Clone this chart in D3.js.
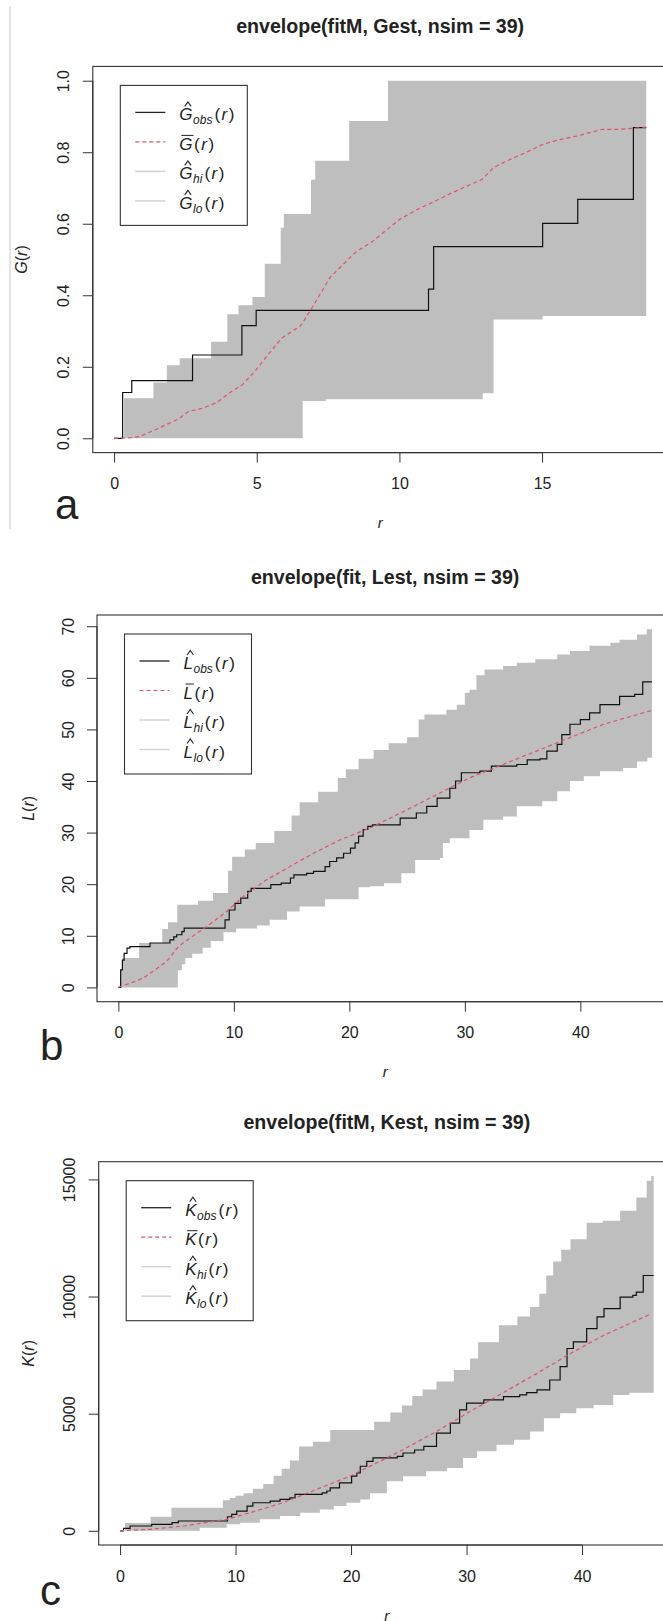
<!DOCTYPE html>
<html><head><meta charset="utf-8">
<script src="https://cdn.jsdelivr.net/npm/d3@7"></script>
<style>
body{margin:0;background:#fff}
svg{display:block}
text{font-family:"Liberation Sans",Arial,Helvetica,sans-serif;fill:#222}
</style></head>
<body><svg id="chart" width="663" height="1621"></svg>
<script>
// ================= DATA =================
// Panel a : envelope(fitM, Gest, nsim = 39)
const gTitle = "envelope(fitM, Gest, nsim = 39)";
const gEnd = 18.65;
const gHi  = [[0,0],[0.35,0.112],[1.38,0.156],[1.85,0.204],[2.3,0.224],[3.4,0.27],[3.97,0.347],[4.36,0.372],[4.85,0.395],[5.28,0.488],[5.84,0.589],[5.95,0.627],[6.9,0.723],[7.05,0.776],[8.24,0.887],[9.6,1.0]];
const gLo  = [[0,0],[6.61,0.104],[7.42,0.109],[12.92,0.126],[13.3,0.332],[15.02,0.342]];
const gObs = [[0,0],[0.3,0.128],[0.62,0.161],[2.75,0.233],[4.48,0.315],[4.98,0.358],[11.02,0.417],[11.2,0.536],[15.02,0.601],[16.25,0.668],[18.2,0.869]];
const gMean = [[0,0],[0.5,0.001],[0.9,0.005],[1.5,0.026],[2.28,0.055],[2.6,0.075],[3.14,0.085],[3.6,0.1],[4.1,0.13],[4.5,0.15],[4.91,0.185],[5.36,0.23],[5.87,0.28],[6.54,0.315],[6.9,0.36],[7.57,0.45],[8.46,0.52],[9.05,0.55],[10,0.612],[10.7,0.643],[11.17,0.66],[11.75,0.683],[12.3,0.703],[12.9,0.724],[13.3,0.757],[13.8,0.777],[14.4,0.798],[15.0,0.821],[15.6,0.835],[16.2,0.845],[17.1,0.864],[17.7,0.864],[18.65,0.87]];
const gTicksX = [0,5,10,15];
const gTicksY = [0,0.2,0.4,0.6,0.8,1.0];
const gTickLabelsY = ["0.0","0.2","0.4","0.6","0.8","1.0"];

// Panel b : envelope(fit, Lest, nsim = 39)
const lTitle = "envelope(fit, Lest, nsim = 39)";
const lEnd = 46.2;
const lHi  = [[0,0],[0.2,3.4],[0.35,5.7],[1.8,8.6],[3.8,11.3],[4.3,12.6],[5.1,16.0],[6.9,16.8],[8.2,18.3],[9.5,22.6],[9.85,25.3],[10.95,26.7],[11.9,28.0],[13.5,30.3],[15.0,33.3],[15.7,35.9],[17.3,37.9],[19.0,40.6],[19.7,42.3],[20.8,44.3],[22.1,46.0],[23.4,47.3],[25.0,48.5],[26.0,51.9],[26.5,52.9],[28.4,53.8],[29.3,54.8],[30.0,57.1],[30.4,57.7],[31.0,60.5],[31.7,61.6],[33.3,62.3],[34.5,62.9],[36.1,63.6],[38.0,64.5],[39.1,65.2],[40.8,66.2],[42.6,66.8],[43.4,67.4],[44.9,68.4],[45.75,69.4]];
const lLo  = [[0,0],[5.15,3.3],[5.5,4.5],[5.8,5.7],[6.4,6.5],[7.3,7.7],[8.0,9.0],[9.1,10.7],[10.2,11.4],[12.0,12.0],[13.1,13.1],[14.6,14.7],[15.7,15.7],[17.9,17.1],[20.8,19.4],[21.8,19.6],[23.0,20.2],[24.5,22.1],[25.7,24.7],[27.85,25.1],[28.1,28.0],[28.7,28.9],[30.4,30.5],[31.6,32.5],[33.3,33.1],[34.5,35.1],[36.7,36.1],[38.0,38.0],[39.1,40.0],[40.3,40.9],[41.7,41.9],[43.7,42.5],[44.9,43.8],[45.8,44.5]];
const lObs = [[0,0],[0.2,3.4],[0.35,5.3],[0.5,6.6],[0.75,7.6],[1.0,7.9],[2.74,8.6],[4.47,9.2],[4.8,9.8],[5.05,10.2],[5.5,10.8],[5.7,11.5],[9.24,13.1],[9.6,15.0],[10.1,16.3],[10.6,17.3],[11.2,18.6],[11.5,19.2],[13.2,19.9],[14.1,20.2],[14.9,21.2],[15.2,21.8],[16.3,22.1],[16.9,22.5],[17.9,23.4],[18.3,24.4],[18.9,25.1],[19.5,26.0],[20.1,27.0],[20.5,28.0],[20.8,29.3],[21.2,30.6],[21.6,31.2],[22.0,31.5],[24.4,32.8],[25.8,33.8],[26.7,35.1],[27.6,36.7],[28.7,38.6],[29.2,40.0],[29.7,41.6],[31.3,41.9],[32.3,42.9],[34.5,43.2],[35.4,44.1],[36.5,44.3],[37.1,45.8],[38.0,47.1],[38.4,49.0],[39.1,51.0],[40.0,51.9],[40.8,53.2],[41.7,54.8],[43.4,56.4],[44.7,56.8],[45.4,59.2]];
const lMean = [[0,0],[1.0,0.8],[2.16,1.8],[3.17,3.4],[4.18,5.0],[5.19,7.9],[6.35,9.8],[7.65,11.8],[9.38,14.7],[10.8,17.6],[12.8,20.8],[14.6,23.1],[16.9,26.0],[19.2,28.6],[21.8,30.9],[24.7,34.1],[27.6,37.4],[30.4,40.6],[33.3,43.2],[36.2,45.8],[39.1,48.4],[42.0,51.0],[46.2,53.7]];
const lTicksX = [0,10,20,30,40];
const lTicksY = [0,10,20,30,40,50,60,70];
const lTickLabelsY = ["0","10","20","30","40","50","60","70"];

// Panel c : envelope(fitM, Kest, nsim = 39)
const kTitle = "envelope(fitM, Kest, nsim = 39)";
const kEnd = 46.2;
const kHi  = [[0,0],[0.43,330],[2.65,600],[4.45,980],[8.9,1300],[9.5,1400],[10.0,1500],[10.7,1600],[11.5,1800],[12.4,2000],[13.3,2350],[14.0,2650],[14.7,3000],[15.5,3600],[16.7,3800],[18.2,4300],[22.0,4650],[23.4,5050],[24.4,5350],[25.3,5750],[26.2,6030],[27.4,6370],[28.9,6860],[30.3,7360],[31.0,8050],[32.8,8770],[34.4,9150],[35.5,9550],[36.3,10120],[36.9,10900],[37.5,11500],[38.2,12000],[39.0,12450],[40.4,13150],[41.8,13240],[43.3,13660],[44.7,14230],[45.6,14940],[46.0,15150]];
const kLo  = [[0,0],[6.9,134],[9.24,276],[10.4,347],[12.1,489],[13.85,630],[15.6,772],[17.3,914],[18.5,1055],[19.6,1197],[20.8,1338],[21.65,1600],[23.1,2118],[24.5,2330],[26.5,2543],[28.3,2684],[29.7,3109],[30.9,3392],[32.6,3675],[34.1,3888],[35.5,4242],[36.7,4809],[38.1,5021],[39.5,5234],[41.0,5375],[42.7,5800],[44.1,5890]];
const kObs = [[0,0],[0.3,100],[0.87,205],[2.74,276],[4.5,347],[5.05,418],[9.3,600],[9.67,701],[10.1,843],[11.0,1055],[11.5,1197],[13.0,1268],[13.85,1338],[14.7,1409],[15.15,1551],[17.5,1621],[17.9,1700],[18.2,1834],[19.0,2046],[20.05,2330],[20.5,2472],[20.8,2755],[21.36,2967],[21.9,3109],[24.0,3180],[24.5,3321],[25.5,3450],[26.3,3605],[27.4,4171],[28.6,4596],[29.4,5163],[30.0,5446],[31.5,5588],[33.2,5730],[34.6,5800],[35.2,5900],[36.1,6013],[37.2,6438],[38.1,7005],[38.7,7783],[39.25,8066],[40.4,8632],[41.3,9129],[41.9,9483],[43.3,9979],[44.4,10049],[44.7,10191],[45.3,10899]];
const kMean = [[0,0],[2.6,64],[5.5,205],[9.24,489],[11.25,772],[14.1,1197],[17.0,1763],[19.9,2330],[22.5,2967],[24.5,3463],[27.4,4242],[30.3,5092],[33.1,5871],[36.1,6721],[39.0,7571],[41.9,8350],[46.0,9270]];
const kTicksX = [0,10,20,30,40];
const kTicksY = [0,5000,10000,15000];
const kTickLabelsY = ["0","5000","10000","15000"];

const panelLetters = ["a","b","c"];
const funcLetters = ["G","L","K"];
const legendSubs = ["obs", null, "hi", "lo"];

// ================= DRAW =================
const svg = d3.select("#chart");
svg.append("rect").attr("width",663).attr("height",1621).attr("fill","#fff");
// faint vertical rule at far left of panel a
svg.append("line").attr("x1",10).attr("x2",10).attr("y1",6).attr("y2",529)
  .attr("stroke","#e4e4e4").attr("stroke-width",2);

const panels = [
  {title:gTitle,end:gEnd,hi:gHi,lo:gLo,obs:gObs,mean:gMean,tx:gTicksX,ty:gTicksY,tyl:gTickLabelsY,
   left:92.8,right:667.5,top:66.4,bottom:452.6,titleY:26,letterX:55,letterY:519,fn:0,ylabX:21},
  {title:lTitle,end:lEnd,hi:lHi,lo:lLo,obs:lObs,mean:lMean,tx:lTicksX,ty:lTicksY,tyl:lTickLabelsY,
   left:97,right:673.3,top:615,bottom:1001.7,titleY:576.5,letterX:40,letterY:1060,fn:1,ylabX:28},
  {title:kTitle,end:kEnd,hi:kHi,lo:kLo,obs:kObs,mean:kMean,tx:kTicksX,ty:kTicksY,tyl:kTickLabelsY,
   left:98.7,right:675,top:1161.7,bottom:1545,titleY:1121.5,letterX:40,letterY:1605,fn:2,ylabX:28}
];

function stepAt(pts, r){ let v = pts[0][1]; for(const p of pts){ if(p[0] <= r) v = p[1]; else break; } return v; }
const FONT = '"Liberation Sans",Arial,sans-serif';

panels.forEach((P, i) => {
  const g = svg.append("g");
  const ymax = d3.max(P.hi, d => d[1]);
  const x = d3.scaleLinear().domain([-0.04*P.end, 1.04*P.end]).range([P.left, P.right]);
  const y = d3.scaleLinear().domain([-0.04*ymax, 1.04*ymax]).range([P.bottom, P.top]);

  // envelope
  const grid = Array.from(new Set(P.hi.map(d=>d[0]).concat(P.lo.map(d=>d[0])).concat([P.end]))).sort((a,b)=>a-b);
  const env = grid.map(r => ({r, hi: stepAt(P.hi, r), lo: stepAt(P.lo, r)}));
  g.append("path").datum(env)
    .attr("d", d3.area().x(d=>x(d.r)).y0(d=>y(d.lo)).y1(d=>y(d.hi)).curve(d3.curveStepAfter))
    .attr("fill","#bebebe").attr("stroke","none");

  // observed (step)
  const obs = P.obs.concat([[P.end, P.obs[P.obs.length-1][1]]]);
  g.append("path").datum(obs)
    .attr("d", d3.line().x(d=>x(d[0])).y(d=>y(d[1])).curve(d3.curveStepAfter))
    .attr("fill","none").attr("stroke","#111").attr("stroke-width",1.2);

  // mean (dashed red)
  g.append("path").datum(P.mean)
    .attr("d", d3.line().x(d=>x(d[0])).y(d=>y(d[1])))
    .attr("fill","none").attr("stroke","#df536b").attr("stroke-width",1.2).attr("stroke-dasharray","4,3");

  // box
  g.append("rect").attr("x",P.left).attr("y",P.top).attr("width",P.right-P.left).attr("height",P.bottom-P.top)
    .attr("fill","none").attr("stroke","#333").attr("stroke-width",1.1);

  // x axis
  const ax = g.append("g").attr("transform",`translate(0,${P.bottom})`)
    .call(d3.axisBottom(x).tickValues(P.tx).tickSize(10).tickSizeOuter(0).tickFormat(d3.format("d")));
  ax.select(".domain").remove();
  ax.append("line").attr("x1",x(P.tx[0])).attr("x2",x(P.tx[P.tx.length-1])).attr("stroke","#333").attr("stroke-width",1.1);
  ax.selectAll(".tick line").attr("stroke","#333");
  ax.selectAll(".tick text").attr("y",31).attr("dy","0.36em").attr("font-size",16)
    .attr("font-family",FONT).attr("fill","#333");
  ax.attr("font-size",null).attr("font-family",null);

  // y axis
  const ay = g.append("g").attr("transform",`translate(${P.left},0)`)
    .call(d3.axisLeft(y).tickValues(P.ty).tickSize(10).tickSizeOuter(0).tickFormat((d,j)=>P.tyl[j]));
  ay.select(".domain").remove();
  ay.append("line").attr("y1",y(P.ty[0])).attr("y2",y(P.ty[P.ty.length-1])).attr("stroke","#333").attr("stroke-width",1.1);
  ay.selectAll(".tick line").attr("stroke","#333");
  ay.selectAll(".tick text").attr("x",null).attr("dy",null)
    .attr("transform","translate(-29,0) rotate(-90)").attr("text-anchor","middle")
    .attr("dominant-baseline","central").attr("font-size",16)
    .attr("font-family",FONT).attr("fill","#333");
  ay.attr("font-size",null).attr("font-family",null);

  // title
  svg.append("text").attr("x",(P.left+P.right)/2).attr("y",P.titleY).attr("text-anchor","middle")
    .attr("dominant-baseline","central").attr("font-weight","bold").attr("font-size",19.6).text(P.title);

  // x label
  svg.append("text").attr("x",(P.left+P.right)/2).attr("y",P.bottom+70).attr("text-anchor","middle")
    .attr("dominant-baseline","central").attr("font-style","italic").attr("font-size",15).text("r");

  // y label  e.g. G(r)
  const ylab = svg.append("text").attr("transform",`translate(${P.ylabX},${(P.top+P.bottom)/2}) rotate(-90)`)
    .attr("text-anchor","middle").attr("dominant-baseline","central").attr("font-size",16);
  ylab.append("tspan").attr("font-style","italic").text(funcLetters[P.fn]);
  ylab.append("tspan").text("(");
  ylab.append("tspan").attr("font-style","italic").text("r");
  ylab.append("tspan").text(")");

  // panel letter
  svg.append("text").attr("x",P.letterX).attr("y",P.letterY).attr("font-size",42).attr("fill","#000").text(panelLetters[i]);

  // legend
  const lgx = P.left + 27.5, lgy = P.top + 19;
  const lg = g.append("g");
  lg.append("rect").attr("x",lgx).attr("y",lgy).attr("width",127).attr("height",140)
    .attr("fill","#fff").attr("stroke","#333").attr("stroke-width",1.1);
  const styles = [
    {stroke:"#222",dash:null,w:1.3},
    {stroke:"#df536b",dash:"4,3",w:1.2},
    {stroke:"#d2d2d2",dash:null,w:1.5},
    {stroke:"#d2d2d2",dash:null,w:1.5}
  ];
  legendSubs.forEach((sub, k) => {
    const ry = lgy + 27 + k*29.5;
    lg.append("line").attr("x1",lgx+15).attr("x2",lgx+45).attr("y1",ry).attr("y2",ry)
      .attr("stroke",styles[k].stroke).attr("stroke-width",styles[k].w).attr("stroke-dasharray",styles[k].dash);
    let cx = lgx + 59;
    const base = ry + 8;
    const letter = lg.append("text").attr("x",cx).attr("y",base).attr("font-style","italic").attr("font-size",17)
      .text(funcLetters[P.fn]);
    const lw = letter.node().getComputedTextLength();
    if (sub) {
      const hc = cx + lw/2 + 2;
      lg.append("path").attr("d",`M${hc-3.2},${base-14} L${hc},${base-18.5} L${hc+3.2},${base-14}`)
        .attr("fill","none").attr("stroke","#222").attr("stroke-width",1.1);
    } else {
      lg.append("line").attr("x1",cx+2).attr("x2",cx+lw+1).attr("y1",base-14.5).attr("y2",base-14.5)
        .attr("stroke","#222").attr("stroke-width",1);
    }
    cx += lw + 0.5;
    if (sub) {
      const s = lg.append("text").attr("x",cx).attr("y",base+4).attr("font-style","italic").attr("font-size",12).text(sub);
      cx += s.node().getComputedTextLength() + 1;
    }
    const t = lg.append("text").attr("x",cx+1).attr("y",base).attr("font-size",17);
    t.append("tspan").text("(");
    t.append("tspan").attr("font-style","italic").attr("dx",1.5).text("r");
    t.append("tspan").attr("dx",1.5).text(")");
  });
});
</script></body></html>
